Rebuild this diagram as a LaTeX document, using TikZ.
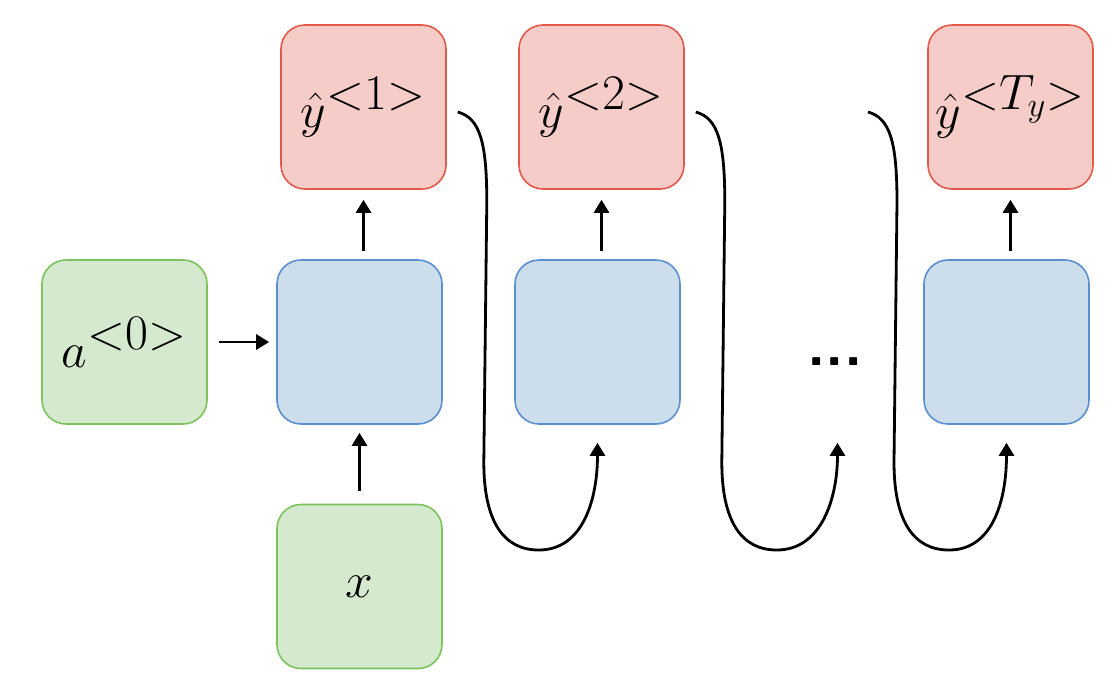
\documentclass[tikz,border=0pt]{standalone}
\usetikzlibrary{arrows.meta,calc}
\definecolor{gfill}{HTML}{D5E9CF}
\definecolor{gline}{HTML}{7DC35C}
\definecolor{bfill}{HTML}{CCDDEB}
\definecolor{bline}{HTML}{5B8FCF}
\definecolor{rfill}{HTML}{F5CCC7}
\definecolor{rline}{HTML}{E2594B}
\begin{document}
\begin{tikzpicture}[x=0.5pt,y=-0.5pt,
  box/.style={rectangle,rounded corners=12pt,minimum width=82.5pt,minimum height=82pt,inner sep=0pt,line width=0.8pt,font=\fontsize{33}{40}\selectfont},
  gbox/.style={box,draw=gline,fill=gfill},
  bbox/.style={box,draw=bline,fill=bfill},
  rbox/.style={box,draw=rline,fill=rfill},
  arr/.style={line width=1.4pt,-{Triangle[length=6.5pt,width=7.5pt]}},
  curve/.style={line width=1.4pt,-{Triangle[length=6.5pt,width=7.5pt]}}
]
\useasboundingbox (0,0) rectangle (1114,692);
\node[gbox] (a0) at (124.5,342) {$a^{<0>}$};
\node[bbox] (b1) at (359.5,342) {};
\node[bbox] (b2) at (597.5,342) {};
\node[bbox] (b3) at (1006.5,342) {};
\node[rbox] (r1) at (363.5,107) {$\hat{y}^{<1>}$};
\node[rbox] (r2) at (601.5,107) {$\hat{y}^{<2>}$};
\node[rbox] (r3) at (1010.5,107) {$\hat{y}^{<T_y>}$};
\node[gbox,font=\fontsize{31}{37}\selectfont] (x) at (359.5,586.5) {$x$};
\node[font=\fontsize{30}{36}\selectfont\sffamily\bfseries] (dots) at (835,362) {...};
\coordinate (c3) at (868,112);

\draw[arr,shorten <=5.5pt,shorten >=3.5pt] (a0.east) -- (b1.west);
\draw[arr,shorten <=6.5pt,shorten >=4pt] (x.north) -- (b1.south);
\foreach \b/\r in {b1/r1,b2/r2,b3/r3}{
  \draw[arr,shorten <=4pt,shorten >=5pt] (\r.south |- \b.north) -- (\r.south);
}
\draw[curve] ([shift={(11,5)}]r1.east) .. controls +(22,6) and +(0,-60) .. ++(29,90)
  -- ++(-3,260) .. controls +(0,60) and +(-35,0) .. ++(55,88)
  .. controls +(45,0) and +(0,55) .. ([shift={(0,18)}]b2.south);
\draw[curve] ([shift={(11,5)}]r2.east) .. controls +(22,6) and +(0,-60) .. ++(29,90)
  -- ++(-3,260) .. controls +(0,60) and +(-35,0) .. ++(55,88)
  .. controls +(45,0) and +(0,55) .. ([shift={(240,18)}]b2.south);
\draw[curve] (c3) .. controls +(22,6) and +(0,-60) .. ++(29,90)
  -- ++(-3,260) .. controls +(0,60) and +(-35,0) .. ++(55,88)
  .. controls +(45,0) and +(0,55) .. ([shift={(0,18)}]b3.south);
\end{tikzpicture}
\end{document}
